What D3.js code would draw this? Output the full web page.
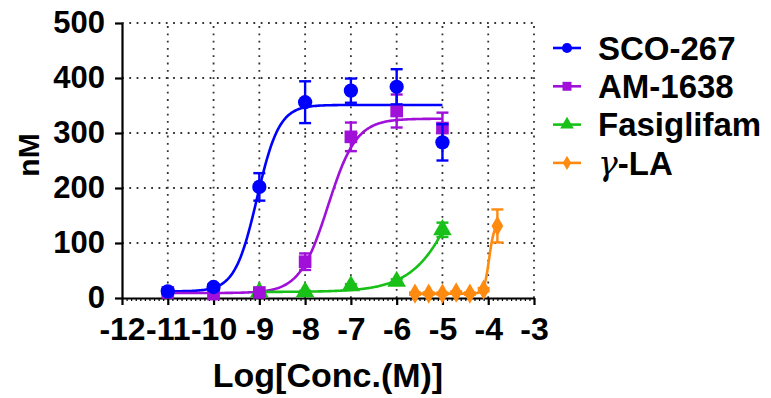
<!DOCTYPE html>
<html>
<head>
<meta charset="utf-8">
<script src="https://cdn.jsdelivr.net/npm/d3@7"></script>
<style>
  body { margin: 0; background: #fff; }
  svg { display: block; font-family: "Liberation Sans", Arial, sans-serif; font-weight: bold; }
</style>
</head>
<body>
<figure id="dose-chart" style="margin:0"></figure>
<script>
// tick labels
const xTicks = [-12, -11, -10, -9, -8, -7, -6, -5, -4, -3];
const yTicks = [0, 100, 200, 300, 400, 500];

// series names and colours
const seriesNames = ["SCO-267", "AM-1638", "Fasiglifam", "γ-LA"];
const seriesColors = ["#0000ff", "#a010d8", "#18c018", "#ff8a10"];
const seriesSymbols = [d3.symbolCircle, d3.symbolSquare, d3.symbolTriangle, d3.symbolDiamond];

// measured points, log[conc] (M) / mean nM / error
const scoConc = [-11, -10, -9, -8, -7, -6, -5];
const scoMean = [12, 20, 202, 356, 377, 384, 283];
const scoErr = [4, 5, 25, 38, 22, 32, 33];

const amConc = [-11, -10, -9, -8, -7, -6, -5];
const amMean = [10, 7, 10, 66, 293, 340, 309];
const amErr = [3, 3, 3, 15, 26, 30, 28];

const fasiConc = [-9, -8, -7, -6, -5];
const fasiMean = [11, 11, 22, 30, 124];
const fasiErr = [2, 2, 3, 4, 13];

const glaConc = [-5.6, -5.3, -5.0, -4.7, -4.4, -4.1, -3.8];
const glaMean = [8, 8, 8, 10, 8, 15, 131];
const glaErr = [2, 2, 2, 2, 2, 3, 30];

// fitted curve parameters: bottom, top, logEC50, hill slope
const scoFit = [12, 351, -9.05, 1.8];
const amFit = [9, 326, -7.5, 1.4];
const fasiFit = [11, 520, -4.3, 0.8];
const glaFit = [8, 135, -3.98, 8];

const width = 771;
const height = 398;

const series = [
  {conc: scoConc, mean: scoMean, err: scoErr, fit: scoFit},
  {conc: amConc, mean: amMean, err: amErr, fit: amFit},
  {conc: fasiConc, mean: fasiMean, err: fasiErr, fit: fasiFit},
  {conc: glaConc, mean: glaMean, err: glaErr, fit: glaFit}
];

const svg = d3.select("figure#dose-chart")
  .append("svg")
  .attr("width", width)
  .attr("height", height);

const x = d3.scaleLinear().domain([-12, -3]).range([122, 534]);
const y = d3.scaleLinear().domain([0, 500]).range([298, 23]);

// dotted grid
const grid = svg.append("g")
  .attr("stroke", "#333")
  .attr("stroke-width", 1.8)
  .attr("stroke-dasharray", "1.8,5.5");
grid.selectAll("line.h")
  .data(yTicks.slice(1))
  .enter().append("line")
  .attr("x1", x(-12)).attr("x2", x(-3))
  .attr("y1", d => y(d)).attr("y2", d => y(d));
grid.selectAll("line.v")
  .data(xTicks.slice(1))
  .enter().append("line")
  .attr("y1", y(0)).attr("y2", y(500))
  .attr("x1", d => x(d)).attr("x2", d => x(d));

// minor x ticks
const minor = d3.range(-120, -30).filter(d => d % 10 !== 0).map(d => d / 10);
svg.append("g")
  .attr("transform", "translate(0," + y(0) + ")")
  .call(d3.axisBottom(x).tickValues(minor).tickSize(3).tickFormat(""))
  .call(g => g.select(".domain").remove())
  .selectAll("line").attr("stroke-width", 1.2);

// X-axis
const xAxis = svg.append("g")
  .attr("transform", "translate(0," + y(0) + ")")
  .call(d3.axisBottom(x).tickValues(xTicks).tickSize(7).tickSizeOuter(0).tickPadding(12)
    .tickFormat(d => String(d)));
xAxis.selectAll("path, line").attr("stroke", "#000").attr("stroke-width", 2.2);
xAxis.selectAll("text").attr("font-size", 32).attr("font-weight", "bold")
  .attr("font-family", "Liberation Sans, Arial, sans-serif").attr("fill", "#000");

// Y-axis
const yAxis = svg.append("g")
  .attr("transform", "translate(" + x(-12) + ",0)")
  .call(d3.axisLeft(y).tickValues(yTicks).tickSize(7).tickSizeOuter(0).tickPadding(10)
    .tickFormat(d => String(d)));
yAxis.selectAll("path, line").attr("stroke", "#000").attr("stroke-width", 2.2);
yAxis.selectAll("text").attr("font-size", 31).attr("font-weight", "bold")
  .attr("font-family", "Liberation Sans, Arial, sans-serif").attr("fill", "#000");

// axis titles
svg.append("text")
  .attr("x", (x(-12) + x(-3)) / 2)
  .attr("y", 387)
  .attr("text-anchor", "middle")
  .attr("font-size", 34)
  .text("Log[Conc.(M)]");
svg.append("text")
  .attr("transform", "translate(39," + y(260) + ")rotate(-90)")
  .attr("text-anchor", "middle")
  .attr("font-size", 30)
  .text("nM");

// fitted curves
const fourPL = (p, c) => p[0] + (p[1] - p[0]) / (1 + Math.pow(10, (p[2] - c) * p[3]));
const line = d3.line().x(d => x(d[0])).y(d => y(d[1]));
series.forEach((s, i) => {
  const lo = d3.min(s.conc), hi = d3.max(s.conc);
  const pts = d3.range(0, 201).map(k => {
    const c = lo + (hi - lo) * k / 200;
    return [c, fourPL(s.fit, c)];
  });
  svg.append("path")
    .attr("d", line(pts))
    .attr("fill", "none")
    .attr("stroke", seriesColors[i])
    .attr("stroke-width", 2.6);
});

// error bars and markers, last series first so SCO-267 is on top
[3, 2, 1, 0].forEach(i => {
  const s = series[i];
  const g = svg.append("g").attr("stroke", seriesColors[i]).attr("fill", seriesColors[i]);
  const pts = s.conc.map((c, k) => ({c: c, m: s.mean[k], e: s.err[k]}));
  g.selectAll("line.bar")
    .data(pts).enter().append("line")
    .attr("x1", d => x(d.c)).attr("x2", d => x(d.c))
    .attr("y1", d => y(d.m - d.e)).attr("y2", d => y(d.m + d.e))
    .attr("stroke-width", 2.4);
  g.selectAll("line.capTop")
    .data(pts).enter().append("line")
    .attr("x1", d => x(d.c) - 6).attr("x2", d => x(d.c) + 6)
    .attr("y1", d => y(d.m + d.e)).attr("y2", d => y(d.m + d.e))
    .attr("stroke-width", 2.4);
  g.selectAll("line.capBot")
    .data(pts).enter().append("line")
    .attr("x1", d => x(d.c) - 6).attr("x2", d => x(d.c) + 6)
    .attr("y1", d => y(d.m - d.e)).attr("y2", d => y(d.m - d.e))
    .attr("stroke-width", 2.4);
  const size = [160, 160, 150, 120][i];
  g.selectAll("path.mark")
    .data(pts).enter().append("path")
    .attr("transform", d => "translate(" + x(d.c) + "," + y(d.m) + ")")
    .attr("d", d3.symbol().type(seriesSymbols[i]).size(size))
    .attr("stroke", "none");
});

// legend
const legend = svg.append("g").attr("transform", "translate(553,48)");
seriesNames.forEach((name, i) => {
  const row = legend.append("g").attr("transform", "translate(0," + (i * 38.3) + ")");
  row.append("line")
    .attr("x1", 0).attr("x2", 28)
    .attr("stroke", seriesColors[i]).attr("stroke-width", 2.6);
  row.append("path")
    .attr("transform", "translate(14,0)")
    .attr("d", d3.symbol().type(seriesSymbols[i]).size(i === 3 ? 60 : 80))
    .attr("fill", seriesColors[i]);
  const label = row.append("text")
    .attr("x", 45)
    .attr("dy", "0.36em")
    .attr("font-size", 33);
  if (name.startsWith("γ")) {
    // the Greek letter is set in a slanted serif face, like the original
    label.append("tspan")
      .attr("font-family", "DejaVu Serif, serif")
      .attr("font-style", "italic")
      .attr("font-weight", "normal")
      .text("γ");
    label.append("tspan").text(name.slice(1));
  } else {
    label.text(name);
  }
});
</script>
</body>
</html>
